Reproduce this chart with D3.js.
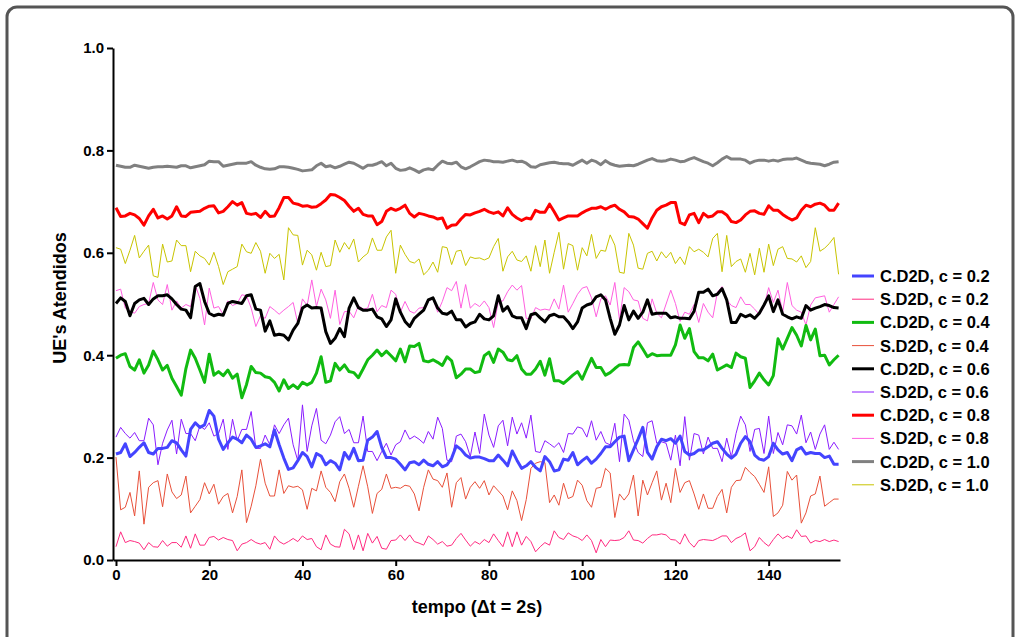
<!DOCTYPE html>
<html><head><meta charset="utf-8">
<script src="https://cdn.jsdelivr.net/npm/d3@7"></script>
<style>
html,body{margin:0;padding:0;background:#fff;}
svg{display:block;}
text{font-family:"Liberation Sans",Arial,sans-serif;font-weight:bold;fill:#000;}
</style></head><body>
<svg id="chart" width="1020" height="637"></svg>
<script>
const xTicks=[0,20,40,60,80,100,120,140];
const yTicks=[0,0.2,0.4,0.6,0.8,1.0];
const seriesNames=["C.D2D, c = 0.2","S.D2D, c = 0.2","C.D2D, c = 0.4","S.D2D, c = 0.4","C.D2D, c = 0.6","S.D2D, c = 0.6","C.D2D, c = 0.8","S.D2D, c = 0.8","C.D2D, c = 1.0","S.D2D, c = 1.0"];
const seriesColors=["#4444ff","#ff2a80","#11bb11","#e8503a","#000000","#8a1cff","#ff0000","#ff5fe0","#808080","#c8c400"];
const seriesWidths=[3,1,3,1,3,1,3,1,3,1];

const cd02=[0.207,0.210,0.227,0.202,0.210,0.220,0.229,0.210,0.207,0.218,
0.218,0.220,0.233,0.229,0.215,0.203,0.255,0.268,0.259,0.264,
0.292,0.281,0.236,0.216,0.229,0.240,0.236,0.229,0.244,0.236,
0.220,0.223,0.227,0.221,0.254,0.225,0.199,0.177,0.180,0.194,
0.210,0.202,0.182,0.208,0.203,0.186,0.194,0.189,0.176,0.210,
0.197,0.218,0.194,0.195,0.234,0.240,0.251,0.220,0.200,0.200,
0.197,0.187,0.176,0.190,0.192,0.186,0.195,0.187,0.184,0.192,
0.182,0.186,0.199,0.223,0.216,0.205,0.199,0.201,0.201,0.198,
0.194,0.194,0.205,0.195,0.184,0.213,0.195,0.179,0.184,0.192,
0.181,0.174,0.202,0.192,0.174,0.176,0.197,0.195,0.210,0.186,
0.194,0.201,0.189,0.197,0.208,0.221,0.221,0.231,0.240,0.242,
0.194,0.215,0.236,0.259,0.210,0.197,0.221,0.236,0.233,0.237,
0.228,0.242,0.212,0.205,0.208,0.215,0.215,0.221,0.228,0.231,
0.218,0.207,0.199,0.207,0.228,0.241,0.231,0.205,0.197,0.195,
0.202,0.228,0.215,0.207,0.210,0.194,0.215,0.220,0.207,0.210,
0.208,0.208,0.200,0.203,0.187,0.187];

const sd02=[0.026,0.055,0.034,0.038,0.036,0.033,0.020,0.034,0.026,0.025,
0.038,0.027,0.034,0.034,0.025,0.047,0.023,0.051,0.029,0.029,
0.044,0.046,0.039,0.044,0.040,0.038,0.018,0.031,0.034,0.040,
0.034,0.031,0.034,0.021,0.047,0.036,0.031,0.036,0.042,0.036,
0.047,0.040,0.042,0.026,0.020,0.049,0.031,0.026,0.025,0.060,
0.051,0.020,0.049,0.018,0.052,0.033,0.046,0.023,0.021,0.038,
0.039,0.049,0.038,0.049,0.036,0.033,0.029,0.047,0.040,0.031,
0.036,0.027,0.029,0.042,0.052,0.039,0.027,0.036,0.031,0.040,
0.034,0.051,0.038,0.026,0.055,0.026,0.055,0.029,0.046,0.036,
0.016,0.026,0.034,0.029,0.057,0.044,0.040,0.053,0.047,0.044,
0.038,0.049,0.038,0.014,0.040,0.026,0.039,0.038,0.039,0.044,
0.057,0.039,0.038,0.033,0.042,0.049,0.049,0.051,0.049,0.040,
0.039,0.031,0.051,0.034,0.025,0.038,0.040,0.039,0.038,0.042,
0.047,0.047,0.034,0.042,0.046,0.053,0.018,0.026,0.044,0.034,
0.027,0.040,0.051,0.042,0.047,0.042,0.059,0.046,0.047,0.033,
0.038,0.036,0.040,0.036,0.039,0.036];

const cd04=[0.394,0.400,0.403,0.378,0.371,0.391,0.365,0.381,0.408,0.391,
0.371,0.380,0.355,0.339,0.322,0.374,0.410,0.394,0.371,0.347,
0.402,0.361,0.368,0.360,0.371,0.355,0.363,0.317,0.343,0.378,
0.366,0.365,0.358,0.356,0.347,0.330,0.352,0.335,0.342,0.335,
0.347,0.342,0.347,0.365,0.397,0.347,0.350,0.384,0.371,0.381,
0.368,0.366,0.356,0.373,0.391,0.400,0.410,0.399,0.408,0.399,
0.389,0.412,0.387,0.418,0.417,0.423,0.389,0.387,0.391,0.386,
0.380,0.397,0.389,0.356,0.363,0.373,0.373,0.366,0.368,0.399,
0.406,0.386,0.412,0.406,0.391,0.389,0.399,0.373,0.363,0.363,
0.373,0.388,0.361,0.393,0.350,0.350,0.345,0.353,0.361,0.368,
0.353,0.374,0.394,0.376,0.376,0.361,0.366,0.374,0.381,0.382,
0.381,0.415,0.426,0.412,0.397,0.403,0.399,0.400,0.400,0.400,
0.420,0.459,0.433,0.452,0.407,0.395,0.395,0.389,0.402,0.371,
0.376,0.381,0.376,0.404,0.397,0.394,0.337,0.350,0.365,0.352,
0.342,0.360,0.432,0.412,0.433,0.454,0.439,0.418,0.458,0.430,
0.451,0.399,0.400,0.381,0.391,0.400];

const sd04=[0.201,0.098,0.103,0.132,0.086,0.174,0.070,0.142,0.151,0.155,
0.104,0.168,0.133,0.120,0.127,0.164,0.092,0.105,0.118,0.151,
0.129,0.148,0.109,0.124,0.130,0.092,0.124,0.176,0.073,0.105,
0.145,0.197,0.150,0.125,0.125,0.176,0.130,0.145,0.142,0.144,
0.137,0.099,0.140,0.135,0.174,0.142,0.132,0.114,0.153,0.168,
0.140,0.103,0.144,0.184,0.143,0.091,0.130,0.138,0.168,0.140,
0.142,0.140,0.146,0.144,0.129,0.096,0.142,0.176,0.158,0.155,
0.142,0.170,0.103,0.151,0.161,0.119,0.142,0.153,0.140,0.155,
0.127,0.145,0.135,0.125,0.098,0.135,0.116,0.077,0.118,0.179,
0.189,0.192,0.190,0.112,0.127,0.107,0.150,0.120,0.124,0.156,
0.146,0.116,0.103,0.140,0.142,0.179,0.170,0.083,0.129,0.117,
0.129,0.166,0.086,0.156,0.127,0.151,0.174,0.117,0.150,0.112,
0.179,0.132,0.151,0.155,0.129,0.099,0.129,0.101,0.101,0.124,
0.138,0.092,0.142,0.155,0.156,0.181,0.171,0.163,0.148,0.132,
0.182,0.085,0.092,0.107,0.173,0.156,0.166,0.072,0.092,0.125,
0.129,0.164,0.105,0.112,0.119,0.119];

const cd06=[0.501,0.512,0.505,0.477,0.501,0.508,0.511,0.499,0.510,0.516,
0.516,0.518,0.510,0.499,0.490,0.488,0.473,0.534,0.540,0.505,
0.482,0.477,0.480,0.478,0.501,0.505,0.503,0.501,0.516,0.518,
0.490,0.488,0.447,0.467,0.439,0.441,0.439,0.430,0.449,0.462,
0.492,0.498,0.492,0.493,0.492,0.446,0.423,0.433,0.452,0.436,
0.492,0.512,0.493,0.488,0.488,0.490,0.475,0.471,0.456,0.469,
0.510,0.484,0.466,0.456,0.472,0.480,0.488,0.508,0.512,0.492,
0.482,0.480,0.486,0.469,0.469,0.455,0.462,0.465,0.480,0.471,
0.469,0.477,0.516,0.486,0.495,0.477,0.473,0.473,0.452,0.479,
0.482,0.473,0.465,0.477,0.480,0.475,0.475,0.465,0.452,0.465,
0.492,0.498,0.501,0.514,0.518,0.508,0.472,0.441,0.459,0.497,
0.469,0.486,0.472,0.484,0.508,0.480,0.482,0.482,0.482,0.473,
0.475,0.472,0.472,0.471,0.486,0.523,0.523,0.529,0.516,0.519,
0.530,0.508,0.464,0.464,0.480,0.475,0.479,0.472,0.482,0.498,
0.516,0.485,0.508,0.480,0.475,0.471,0.475,0.472,0.497,0.488,
0.492,0.495,0.499,0.497,0.493,0.492];

const sd06=[0.240,0.259,0.247,0.238,0.249,0.233,0.233,0.277,0.264,0.186,
0.228,0.254,0.273,0.207,0.275,0.247,0.247,0.233,0.262,0.255,
0.268,0.242,0.247,0.275,0.216,0.275,0.233,0.255,0.255,0.290,
0.218,0.218,0.244,0.225,0.264,0.247,0.264,0.277,0.225,0.194,
0.303,0.212,0.262,0.296,0.234,0.227,0.244,0.270,0.280,0.247,
0.255,0.229,0.229,0.281,0.212,0.212,0.194,0.212,0.228,0.205,
0.225,0.231,0.254,0.236,0.242,0.236,0.228,0.251,0.236,0.279,
0.257,0.195,0.192,0.242,0.246,0.231,0.202,0.250,0.208,0.285,
0.244,0.220,0.262,0.273,0.223,0.279,0.246,0.268,0.238,0.283,
0.212,0.210,0.233,0.227,0.220,0.229,0.210,0.247,0.246,0.260,
0.257,0.240,0.272,0.234,0.251,0.229,0.225,0.267,0.192,0.285,
0.273,0.233,0.210,0.202,0.268,0.272,0.228,0.231,0.228,0.195,
0.244,0.184,0.280,0.195,0.247,0.244,0.207,0.240,0.218,0.218,
0.192,0.238,0.201,0.247,0.281,0.264,0.212,0.255,0.257,0.208,
0.281,0.208,0.249,0.225,0.264,0.262,0.246,0.283,0.229,0.250,
0.216,0.246,0.264,0.216,0.230,0.216];

const cd08=[0.688,0.671,0.672,0.677,0.674,0.667,0.654,0.672,0.685,0.668,
0.672,0.666,0.672,0.690,0.672,0.671,0.679,0.680,0.681,0.687,
0.691,0.692,0.678,0.681,0.690,0.700,0.693,0.698,0.677,0.675,
0.677,0.669,0.681,0.671,0.672,0.688,0.708,0.708,0.697,0.695,
0.691,0.692,0.689,0.690,0.696,0.703,0.714,0.713,0.708,0.702,
0.691,0.681,0.687,0.675,0.672,0.672,0.655,0.661,0.681,0.687,
0.683,0.687,0.693,0.677,0.670,0.677,0.675,0.672,0.670,0.666,
0.668,0.648,0.654,0.655,0.666,0.675,0.674,0.678,0.681,0.685,
0.680,0.677,0.680,0.672,0.688,0.675,0.668,0.663,0.668,0.666,
0.683,0.679,0.679,0.695,0.680,0.664,0.668,0.672,0.672,0.672,
0.678,0.683,0.687,0.687,0.690,0.685,0.690,0.693,0.685,0.680,
0.671,0.670,0.666,0.657,0.648,0.668,0.683,0.690,0.693,0.698,
0.698,0.659,0.655,0.674,0.677,0.659,0.677,0.670,0.672,0.680,
0.680,0.674,0.661,0.659,0.664,0.674,0.681,0.682,0.677,0.675,
0.692,0.683,0.683,0.675,0.669,0.664,0.668,0.683,0.693,0.690,
0.695,0.697,0.693,0.683,0.683,0.697];

const sd08=[0.526,0.529,0.492,0.486,0.482,0.495,0.499,0.501,0.542,0.508,
0.499,0.538,0.488,0.506,0.492,0.499,0.495,0.537,0.511,0.459,
0.531,0.492,0.495,0.479,0.506,0.497,0.501,0.518,0.516,0.492,
0.456,0.477,0.472,0.495,0.488,0.480,0.488,0.495,0.503,0.462,
0.510,0.497,0.547,0.495,0.529,0.508,0.472,0.527,0.460,0.485,
0.486,0.473,0.497,0.490,0.492,0.519,0.485,0.497,0.493,0.527,
0.519,0.484,0.505,0.486,0.482,0.492,0.493,0.506,0.510,0.484,
0.505,0.532,0.526,0.544,0.492,0.538,0.492,0.501,0.495,0.506,
0.493,0.454,0.505,0.506,0.524,0.537,0.527,0.536,0.472,0.471,
0.493,0.488,0.490,0.488,0.510,0.490,0.537,0.484,0.501,0.519,
0.531,0.534,0.512,0.475,0.510,0.516,0.498,0.542,0.469,0.532,
0.524,0.508,0.506,0.472,0.467,0.510,0.482,0.473,0.500,0.527,
0.501,0.466,0.484,0.480,0.499,0.464,0.501,0.484,0.473,0.523,
0.534,0.508,0.497,0.493,0.514,0.499,0.499,0.490,0.479,0.495,
0.532,0.503,0.527,0.484,0.542,0.497,0.488,0.484,0.459,0.498,
0.512,0.514,0.516,0.484,0.499,0.514];

const cd10=[0.771,0.769,0.767,0.767,0.771,0.769,0.767,0.765,0.767,0.768,
0.768,0.769,0.768,0.767,0.770,0.770,0.766,0.768,0.770,0.772,
0.779,0.778,0.778,0.769,0.771,0.773,0.775,0.775,0.775,0.778,
0.771,0.767,0.764,0.763,0.764,0.768,0.768,0.767,0.765,0.763,
0.760,0.761,0.762,0.770,0.775,0.768,0.770,0.766,0.769,0.773,
0.777,0.775,0.770,0.765,0.771,0.771,0.774,0.778,0.770,0.775,
0.765,0.761,0.762,0.766,0.762,0.757,0.762,0.764,0.762,0.771,
0.779,0.775,0.774,0.777,0.768,0.764,0.768,0.773,0.778,0.781,
0.780,0.778,0.778,0.777,0.779,0.781,0.778,0.779,0.775,0.768,
0.767,0.772,0.774,0.776,0.777,0.775,0.774,0.774,0.771,0.776,
0.781,0.775,0.781,0.778,0.772,0.780,0.774,0.771,0.769,0.770,
0.771,0.770,0.773,0.777,0.781,0.784,0.780,0.779,0.780,0.783,
0.781,0.778,0.779,0.783,0.786,0.782,0.778,0.775,0.770,0.776,
0.783,0.788,0.783,0.783,0.783,0.781,0.775,0.779,0.781,0.781,
0.779,0.781,0.779,0.782,0.783,0.783,0.785,0.781,0.777,0.775,
0.774,0.773,0.770,0.773,0.777,0.778];

const sd10=[0.610,0.607,0.579,0.605,0.634,0.590,0.603,0.615,0.555,0.552,
0.617,0.582,0.584,0.625,0.614,0.614,0.563,0.603,0.594,0.589,
0.576,0.601,0.573,0.538,0.563,0.568,0.573,0.617,0.602,0.599,
0.620,0.603,0.560,0.599,0.589,0.597,0.547,0.649,0.635,0.634,
0.576,0.605,0.596,0.566,0.601,0.573,0.575,0.625,0.601,0.620,
0.607,0.627,0.582,0.592,0.599,0.629,0.605,0.605,0.631,0.644,
0.560,0.615,0.597,0.583,0.580,0.588,0.557,0.566,0.582,0.562,
0.612,0.610,0.577,0.603,0.605,0.575,0.592,0.589,0.590,0.586,
0.590,0.612,0.628,0.564,0.592,0.603,0.586,0.583,0.594,0.564,
0.614,0.573,0.625,0.560,0.601,0.640,0.568,0.618,0.614,0.566,
0.610,0.594,0.636,0.589,0.605,0.603,0.635,0.615,0.562,0.560,
0.638,0.615,0.570,0.568,0.599,0.603,0.584,0.602,0.590,0.601,
0.579,0.592,0.577,0.612,0.602,0.607,0.601,0.592,0.628,0.638,
0.563,0.634,0.573,0.583,0.588,0.562,0.599,0.557,0.609,0.562,
0.617,0.575,0.607,0.612,0.589,0.588,0.582,0.594,0.571,0.583,
0.649,0.603,0.609,0.618,0.630,0.558];

const seriesValues=[cd02,sd02,cd04,sd04,cd06,sd06,cd08,sd08,cd10,sd10];

const svg=d3.select("#chart");
// outer frame
svg.append("rect").attr("x",7).attr("y",7).attr("width",1006).attr("height",660)
  .attr("rx",10).attr("ry",10).attr("fill","none").attr("stroke","#555").attr("stroke-width",3);

const x=d3.scaleLinear().domain([-0.64,155.3]).range([113,840]);
const y=d3.scaleLinear().domain([0,1]).range([560,48]);

const line=d3.line().x((d,i)=>x(i)).y(d=>y(d));
const order=[9,8,7,6,5,4,3,2,1,0];
const g=svg.append("g");
order.forEach(k=>{
  g.append("path").datum(seriesValues[k]).attr("d",line)
    .attr("fill","none").attr("stroke",seriesColors[k]).attr("stroke-width",seriesWidths[k])
    .attr("stroke-linejoin","round");
});

// axes
const xAxis=svg.append("g").attr("transform","translate(0,560)")
  .call(d3.axisBottom(x).tickValues(xTicks).tickSize(6).tickPadding(3).tickSizeOuter(0).tickFormat(d3.format("d")));
const yAxis=svg.append("g").attr("transform","translate(113,0)")
  .call(d3.axisLeft(y).tickValues(yTicks).tickSize(6).tickPadding(3).tickSizeOuter(0).tickFormat(d3.format(".1f")));
[xAxis,yAxis].forEach(a=>{
  a.select(".domain").attr("stroke","#000").attr("stroke-width",2);
  a.selectAll(".tick line").attr("stroke","#000").attr("stroke-width",2);
  a.selectAll(".tick text").style("font-size","15px").style("font-weight","bold")
   .style("font-family","'Liberation Sans',Arial,sans-serif").attr("fill","#000");
});

svg.append("text").attr("x",477).attr("y",613).attr("text-anchor","middle")
  .style("font-size","18px").text("tempo (\u0394t = 2s)");
svg.append("text").attr("transform","translate(66,298) rotate(-90)").attr("text-anchor","middle")
  .style("font-size","18px").text("UE's Atendidos");

// legend
const leg=svg.append("g");
seriesNames.forEach((n,k)=>{
  const yy=276+k*23.2;
  leg.append("line").attr("x1",852).attr("x2",874).attr("y1",yy).attr("y2",yy)
    .attr("stroke",seriesColors[k]).attr("stroke-width",seriesWidths[k]);
  leg.append("text").attr("x",880).attr("y",yy+6).style("font-size","16.5px").text(n);
});
</script>
</body></html>
